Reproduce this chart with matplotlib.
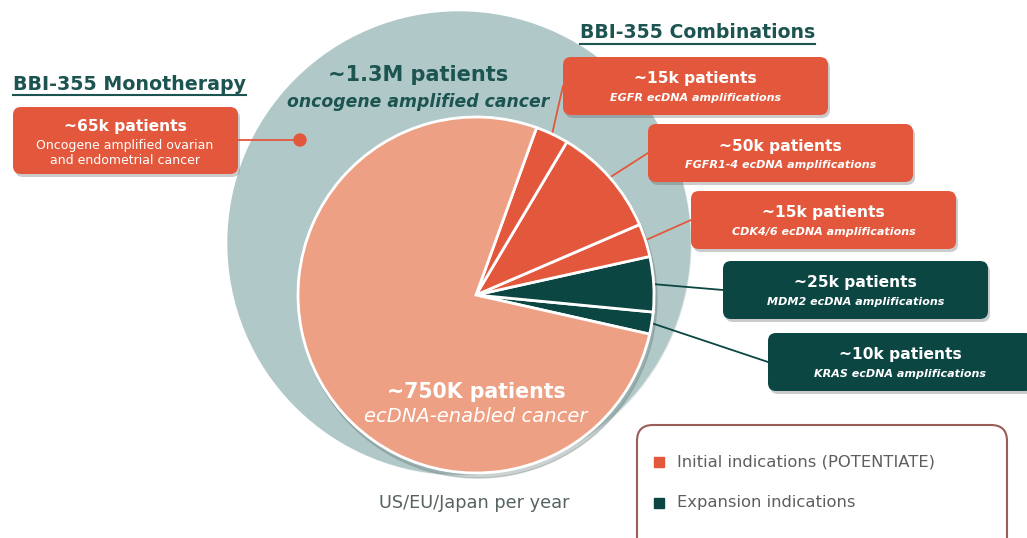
import matplotlib
matplotlib.use("Agg")
import matplotlib.pyplot as plt
from matplotlib.patches import Circle, FancyBboxPatch
import numpy as np

W, H = 1027, 538

# pie slices, counter-clockwise from the lower right
slice_names = ["KRAS", "MDM2", "CDK4/6", "FGFR1-4", "EGFR", "rest"]
slice_values = [10, 25, 15, 50, 15, 385]
slice_group = ["expansion", "expansion", "initial", "initial", "initial", "rest"]

box_counts = ["~10k patients", "~25k patients", "~15k patients", "~50k patients", "~15k patients"]
box_notes = ["KRAS ecDNA amplifications", "MDM2 ecDNA amplifications",
             "CDK4/6 ecDNA amplifications", "FGFR1-4 ecDNA amplifications",
             "EGFR ecDNA amplifications"]

mono_count = "~65k patients"
mono_note = ["Oncogene amplified ovarian", "and endometrial cancer"]

outer_title = ["~1.3M patients", "oncogene amplified cancer"]
inner_title = ["~750K patients", "ecDNA-enabled cancer"]
legend_labels = ["Initial indications (POTENTIATE)", "Expansion indications"]

ORANGE = "#E3583C"
DARK = "#0B4643"
SALMON = "#EEA084"
PALE = "#B1C8C8"
TEAL_TXT = "#1B5450"
GRAY_TXT = "#576262"
colors = {"initial": ORANGE, "expansion": DARK, "rest": SALMON}


def Y(y):
    # picture rows run downwards, axes run upwards
    return H - y


fig = plt.figure(figsize=(W / 100, H / 100), dpi=100)
ax = fig.add_axes([0, 0, 1, 1])

# big pale circle behind everything
ax.add_patch(Circle((460, Y(244)), 231, color="#9aa9a9", alpha=0.2, zorder=0))
ax.add_patch(Circle((459, Y(243)), 231, color=PALE, zorder=1))

cx, cy, r = 476, Y(295), 178
ax.add_patch(Circle((cx + 2, cy - 4), r + 1, color="#6f7f7f", alpha=0.35, zorder=2))
wedges, _ = ax.pie(slice_values, colors=[colors[g] for g in slice_group],
                   startangle=-12.7, center=(cx, cy), radius=r,
                   wedgeprops=dict(edgecolor="white", linewidth=2))
for w in wedges:
    w.set_zorder(3)

ax.set_xlim(0, W)
ax.set_ylim(0, H)
ax.set_aspect("equal")
ax.axis("off")


def card(x, y, w, h, color, zorder=4):
    ax.add_patch(FancyBboxPatch((x + 2, Y(y + h) - 3), w, h,
                                boxstyle="round,pad=0,rounding_size=8",
                                fc="#555555", ec="none", alpha=0.3, zorder=zorder))
    ax.add_patch(FancyBboxPatch((x, Y(y + h)), w, h,
                                boxstyle="round,pad=0,rounding_size=8",
                                fc=color, ec="none", zorder=zorder + 1))


# combination boxes
box_left = [768, 723, 691, 648, 563]
box_top = [333, 261, 191, 124, 57]
bw, bh = 265, 58
for i in range(5):
    g = slice_group[i]
    col = colors[g]
    x0, y0 = box_left[i], box_top[i]
    card(x0, y0, bw, bh, col)
    ax.text(x0 + bw / 2, Y(y0 + 22), box_counts[i], color="white", fontsize=11.2,
            fontweight="bold", ha="center", va="center", zorder=7)
    ax.text(x0 + bw / 2, Y(y0 + 41), box_notes[i], color="white", fontsize=8,
            fontweight="bold", style="italic", ha="center", va="center", zorder=7)
    mid = np.deg2rad((wedges[i].theta1 + wedges[i].theta2) / 2)
    ax.plot([cx + r * np.cos(mid), x0], [cy + r * np.sin(mid), Y(y0 + bh / 2)],
            color=col, lw=1.3, zorder=2.5)

# monotherapy box
card(13, 107, 225, 67, ORANGE)
ax.text(125, Y(127), mono_count, color="white", fontsize=11.2, fontweight="bold",
        ha="center", va="center", zorder=7)
for k, line in enumerate(mono_note):
    ax.text(125, Y(146 + 15 * k), line, color="white", fontsize=9,
            ha="center", va="center", zorder=7)
ax.plot([238, 300], [Y(140), Y(140)], color=ORANGE, lw=1.3, zorder=4)
ax.add_patch(Circle((300, Y(140)), 6, color=ORANGE, zorder=4))

# circle labels
ax.text(418, Y(75), outer_title[0], color=TEAL_TXT, fontsize=15, fontweight="bold",
        ha="center", va="center", zorder=6)
ax.text(418, Y(102), outer_title[1], color=TEAL_TXT, fontsize=12.4, fontweight="bold",
        style="italic", ha="center", va="center", zorder=6)
ax.text(476, Y(392), inner_title[0], color="white", fontsize=14.8, fontweight="bold",
        ha="center", va="center", zorder=6)
ax.text(476, Y(417), inner_title[1], color="white", fontsize=14, style="italic",
        ha="center", va="center", zorder=6)
ax.text(474, Y(503), "US/EU/Japan per year", color=GRAY_TXT, fontsize=12.8,
        ha="center", va="center", zorder=6)

# underlined section headings
heads = [ax.text(13, Y(84), "BBI-355 Monotherapy", color=TEAL_TXT, fontsize=13.7,
                 fontweight="bold", ha="left", va="center", zorder=6),
         ax.text(580, Y(33), "BBI-355 Combinations", color=TEAL_TXT, fontsize=13.6,
                 fontweight="bold", ha="left", va="center", zorder=6)]
fig.canvas.draw()
inv = ax.transData.inverted()
for t in heads:
    bb = t.get_window_extent().transformed(inv)
    ax.plot([bb.x0, bb.x1], [bb.y0 - 1, bb.y0 - 1], color=TEAL_TXT, lw=1.5, zorder=6)

# legend box
ax.add_patch(FancyBboxPatch((637, Y(560)), 370, 135,
                            boxstyle="round,pad=0,rounding_size=16",
                            fc="white", ec="#9A5D57", lw=1.5, zorder=4))
for k, (lab, col) in enumerate(zip(legend_labels, [ORANGE, DARK])):
    yy = Y(462 + 41 * k)
    ax.plot([659], [yy], marker="s", markersize=6.5, color=col, zorder=6)
    ax.text(677, yy, lab, color="#5E5E5E", fontsize=11.8, ha="left", va="center", zorder=6)

fig.savefig("out.png", dpi=100)
